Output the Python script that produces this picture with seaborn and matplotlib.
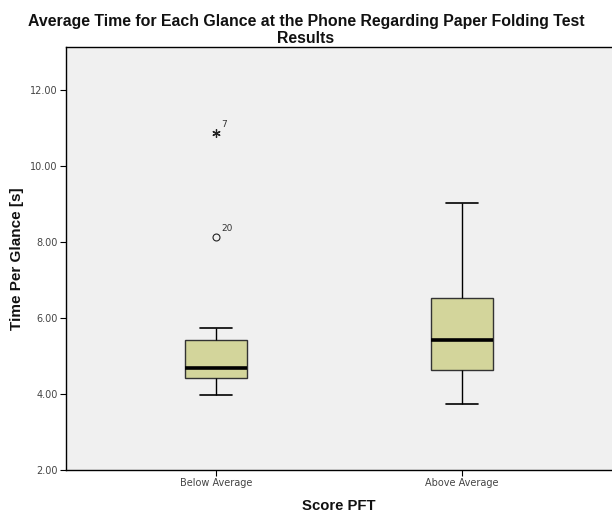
import matplotlib
matplotlib.use("Agg")
import matplotlib.pyplot as plt
import pandas as pd
import seaborn as sns

# Five-number summaries (min, Q1, median, Q3, max) of the whisker range per group
categories = ["Below Average", "Above Average"]
below_summary = [3.97, 4.42, 4.68, 5.42, 5.74]
above_summary = [3.74, 4.63, 5.42, 6.53, 9.03]

# Points beyond the whiskers: (group, value, case label, kind)
outlier_groups = ["Below Average", "Below Average"]
outlier_values = [8.13, 10.87]
outlier_labels = ["20", "7"]
outlier_kinds = ["o", "*"]

y_ticks = [2, 4, 6, 8, 10, 12]

sns.set_theme(style="white")
plt.rcParams["font.family"] = ["Liberation Sans", "DejaVu Sans"]

df = pd.DataFrame({
    "Score PFT": [categories[0]] * len(below_summary) + [categories[1]] * len(above_summary),
    "Time Per Glance [s]": below_summary + above_summary,
})

W, H = 612, 513
fig = plt.figure(figsize=(W / 100, H / 100), dpi=100)
ax = fig.add_axes([66 / W, 1 - 470 / H, 546 / W, 423 / H])
ax.set_facecolor("#f0f0f0")

sns.boxplot(
    data=df, x="Score PFT", y="Time Per Glance [s]", order=categories,
    whis=(0, 100), width=0.25, color="#d3d59b", saturation=1,
    linecolor="black", linewidth=1.0,
    medianprops=dict(color="black", linewidth=2.6),
    whiskerprops=dict(color="black", linewidth=1.0),
    capprops=dict(color="black", linewidth=1.2),
    boxprops=dict(edgecolor="#333333", linewidth=1.0),
    ax=ax,
)
# shorten the whisker caps
for line in ax.lines:
    xd = line.get_xdata()
    if len(xd) == 2 and xd[0] != xd[1]:
        c = (xd[0] + xd[1]) / 2
        if abs(xd[1] - xd[0]) < 0.2:
            line.set_xdata([c - 0.065, c + 0.065])

# outliers (circle) and extreme values (asterisk)
for g, v, kind in zip(outlier_groups, outlier_values, outlier_kinds):
    xi = categories.index(g)
    if kind == "o":
        ax.plot(xi, v, marker="o", markersize=5, markerfacecolor="none",
                markeredgecolor="#222222", markeredgewidth=0.8, linestyle="none")
    else:
        ax.plot(xi, v, marker=(6, 2, 0), markersize=6,
                markeredgecolor="#222222", markeredgewidth=0.9, linestyle="none")

for g, v, lab in zip(outlier_groups, outlier_values, outlier_labels):
    xi = categories.index(g)
    ax.annotate(lab, (xi, v), xytext=(4, 3), textcoords="offset points",
                fontsize=6.5, color="#333333", ha="left", va="bottom",
                family="DejaVu Sans")

ax.set_xlim(-0.61, 1.61)
ax.set_ylim(2, 13.13)
ax.set_yticks(y_ticks)
ax.set_yticklabels([f"{t:.2f}" for t in y_ticks])
ax.tick_params(axis="both", direction="out", length=4, width=0.8, color="black",
               labelsize=7, labelcolor="#444444", left=True, bottom=True, pad=2)
for lab in ax.get_xticklabels() + ax.get_yticklabels():
    lab.set_family("DejaVu Sans")

for side in ["left", "top", "bottom"]:
    ax.spines[side].set_color("black")
    ax.spines[side].set_linewidth(1.0)
ax.spines["right"].set_visible(False)

ax.set_xlabel("Score PFT", fontsize=10.7, fontweight="bold", va="baseline", color="#111111")
ax.xaxis.set_label_coords(0.5, (470 - 510) / 423)
ax.set_ylabel("Time Per Glance [s]", fontsize=11, fontweight="bold", va="center", color="#111111")
ax.yaxis.set_label_coords((17 - 66) / 546, 0.5)

fig.text(0.5, 1 - 14 / H,
         "Average Time for Each Glance at the Phone Regarding Paper Folding Test\nResults",
         ha="center", va="top", fontsize=11.4, fontweight="bold", linespacing=1.15,
         color="#111111")

fig.savefig("out.png", dpi=100, facecolor="white")
